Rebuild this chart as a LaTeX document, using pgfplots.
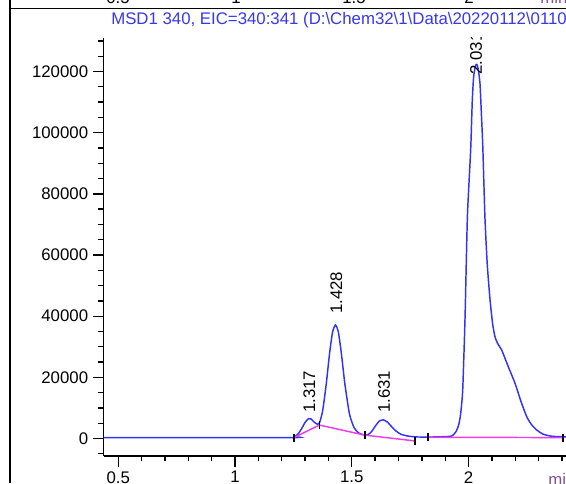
\documentclass[border=0pt]{standalone}
\usepackage{pgfplots}
\pgfplotsset{compat=1.18}
\usepackage{fontspec}
\setmainfont{Liberation Sans}
\definecolor{trace}{RGB}{50,50,245}
\definecolor{basecol}{RGB}{240,60,230}
\definecolor{titleblue}{RGB}{55,55,240}
\definecolor{minpurple}{RGB}{130,80,150}
\newcommand{\lf}{\fontsize{12.6}{14}\selectfont}
\begin{document}
\begin{tikzpicture}
\useasboundingbox (0pt,0pt) rectangle (424.5pt,362.25pt);
\clip (0pt,0pt) rectangle (424.5pt,362.25pt);
% outer frame lines
\draw[line width=1.1pt] (7.5pt,0pt) -- (7.5pt,362.25pt);
\draw[line width=1.1pt] (7.5pt,356.0pt) -- (424.5pt,356.0pt);
% cut-off labels of the chart above
\node[anchor=base, inner sep=0pt, font=\lf] at (88.5pt,359.6pt) {0.5};
\node[anchor=base, inner sep=0pt, font=\lf] at (177pt,359.6pt) {1};
\node[anchor=base, inner sep=0pt, font=\lf] at (265.5pt,359.6pt) {1.5};
\node[anchor=base, inner sep=0pt, font=\lf] at (351.75pt,359.6pt) {2};
\node[anchor=base west, inner sep=0pt, font=\lf, text=minpurple] at (405pt,359.6pt) {min};
% title
\node[anchor=base west, inner sep=0pt, font=\lf, text=titleblue] at (83.25pt,343.5pt)
  {MSD1 340, EIC=340:341 (D:\textbackslash Chem32\textbackslash 1\textbackslash Data\textbackslash 20220112\textbackslash 0110-0005.D)};
\begin{axis}[
  at={(77.625pt,20.25pt)}, anchor=south west,
  scale only axis, width=352.6pt, height=313.6pt,
  xmin=0.4366, xmax=2.45, ymin=-5723, ymax=131000,
  axis lines=left,
  axis line style={-, line width=1.1pt, black},
  tick align=outside,
  xtick={0.5,1,1.5,2},
  minor xtick={0.6,0.7,0.8,0.9,1.1,1.2,1.3,1.4,1.6,1.7,1.8,1.9,2.1,2.2,2.3,2.4},
  ytick={0,20000,40000,60000,80000,100000,120000},
  minor ytick={-5000,5000,10000,15000,25000,30000,35000,45000,50000,55000,65000,70000,75000,85000,90000,95000,105000,110000,115000,125000,130000},
  major tick length=8pt, minor tick length=4pt,
  every tick/.style={black, line width=1.0pt},
  scaled y ticks=false,
  /pgf/number format/assume math mode=true,
  yticklabel style={/pgf/number format/fixed, /pgf/number format/1000 sep={}, font=\lf},
  xticklabel style={font=\lf},
  clip=true,
]
\addplot[trace, line width=1.1pt, smooth, tension=0.35] coordinates {
(0.4366,300) (1.24,300) (1.255,600) (1.27,1500) (1.285,3200) (1.30,5300)
(1.315,6500) (1.325,6400) (1.34,5300) (1.352,4700) (1.362,5200) (1.375,9000)
(1.39,17500) (1.405,28000) (1.418,35000) (1.43,37100) (1.442,35000) (1.455,28000)
(1.47,18000) (1.49,8000) (1.51,3500) (1.53,1800) (1.55,1200) (1.57,1300)
(1.585,2300) (1.60,4000) (1.618,5700) (1.635,6100) (1.652,5400) (1.67,3900)
(1.69,2400) (1.71,1400) (1.74,800) (1.78,500) (1.85,500) (1.92,700)
(1.935,1200) (1.948,2500) (1.958,4500) (1.966,8000) (1.975,16000) (1.985,39800)
(1.995,72500) (2.009,94300) (2.016,110700) (2.022,118500) (2.030,122000) (2.036,122300)
(2.042,120500) (2.049,116000) (2.055,106000) (2.061,95400) (2.070,72500) (2.08,57000)
(2.092,45300) (2.103,37500) (2.113,33300) (2.125,31000) (2.142,28900) (2.17,23500)
(2.199,18050) (2.225,12000) (2.249,7130) (2.27,4500) (2.292,2780) (2.32,1400)
(2.36,700) (2.45,500)
};
\addplot[basecol, line width=1.1pt] coordinates {(1.252,300) (1.361,4400) (1.556,1100) (1.771,-800)};
\addplot[basecol, line width=1.1pt] coordinates {(1.826,400) (2.404,300)};
\addplot[only marks, mark=|, mark size=3pt, black, mark options={line width=1.1pt}] coordinates {
(1.252,300) (1.361,4400) (1.556,1100) (1.771,-800) (1.826,400) (2.404,300)};
\node[rotate=90, anchor=west, inner sep=0pt, font=\lf] at (axis cs:1.318,8340) {1.317};
\node[rotate=90, anchor=west, inner sep=0pt, font=\lf] at (axis cs:1.434,40700) {1.428};
\node[rotate=90, anchor=west, inner sep=0pt, font=\lf] at (axis cs:1.638,8340) {1.631};
\node[rotate=90, anchor=west, inner sep=0pt, font=\lf] at (axis cs:2.032,118900) {2.031};
\end{axis}
\node[anchor=base west, inner sep=0pt, font=\lf, text=minpurple] at (411pt,-1.5pt) {min};
\end{tikzpicture}
\end{document}
